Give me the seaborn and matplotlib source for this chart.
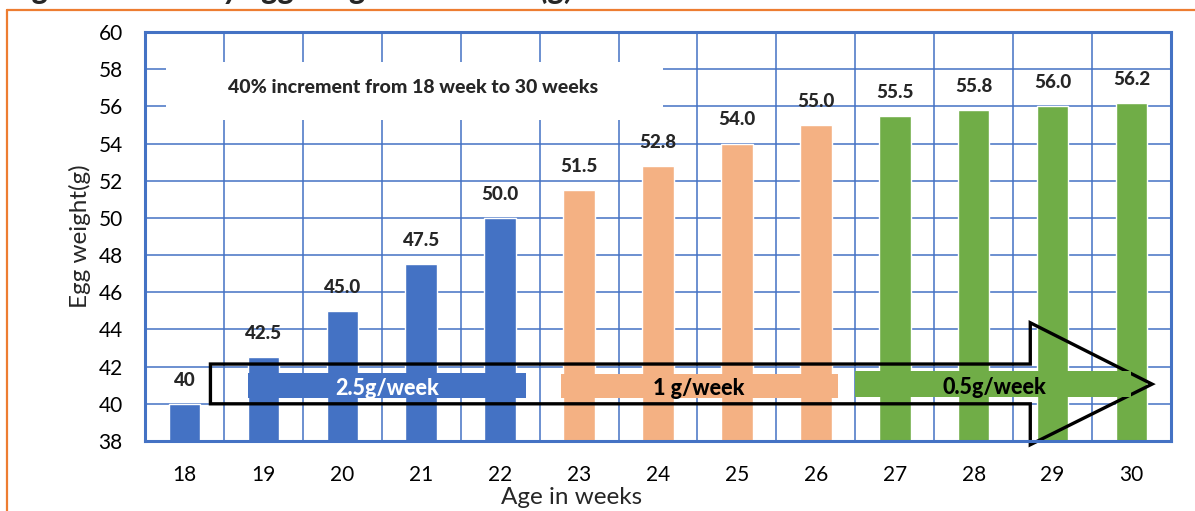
import matplotlib
matplotlib.use("Agg")
import matplotlib.pyplot as plt
import seaborn as sns
import pandas as pd
import numpy as np
from matplotlib.patches import Polygon, Rectangle
from matplotlib.lines import Line2D

# Weekly egg weight data
weeks = [18, 19, 20, 21, 22, 23, 24, 25, 26, 27, 28, 29, 30]
weights = [40.0, 42.5, 45.0, 47.5, 50.0, 51.5, 52.8, 54.0, 55.0, 55.5, 55.8, 56.0, 56.2]
value_labels = ["40", "42.5", "45.0", "47.5", "50.0", "51.5", "52.8",
                "54.0", "55.0", "55.5", "55.8", "56.0", "56.2"]
phases = ["2.5g/week"] * 5 + ["1 g/week"] * 4 + ["0.5g/week"] * 4
phase_names = ["2.5g/week", "1 g/week", "0.5g/week"]
phase_colors = ["#4472C4", "#F4B183", "#70AD47"]
y_ticks = list(range(38, 61, 2))

title_text = "Figure 3: Weekly egg weight over time (g)"
note_text = "40% increment from 18 week to 30 weeks"

BLUE = "#4472C4"
W, H = 1195, 511

sns.set_theme(style="white")
plt.rcParams["font.family"] = ["Lato", "DejaVu Sans"]

df = pd.DataFrame({"week": [str(w) for w in weeks], "weight": weights, "phase": phases})

fig = plt.figure(figsize=(W / 100, H / 100), dpi=100)
ax = fig.add_axes([145 / W, 1 - 441 / H, (1171 - 145) / W, (441 - 32) / H])

sns.barplot(data=df, x="week", y="weight", hue="phase", hue_order=phase_names,
            palette=dict(zip(phase_names, phase_colors)), dodge=False, width=0.4,
            saturation=1, errorbar=None, legend=False, ax=ax, zorder=2)

ax.set_xlim(-0.5, len(weeks) - 0.5)
ax.set_ylim(38, 60)
ax.set_yticks(y_ticks)
ax.set_yticklabels([str(t) for t in y_ticks])
ax.set_xticks(np.arange(len(weeks)))
ax.set_xticklabels([str(w) for w in weeks])
ax.set_xticks(np.arange(-0.5, len(weeks), 1), minor=True)

ax.set_axisbelow(True)
ax.yaxis.grid(True, color=BLUE, lw=1.1)
ax.xaxis.grid(True, which="minor", color=BLUE, lw=1.1)
ax.xaxis.grid(False, which="major")
ax.tick_params(axis="both", which="both", length=0, labelsize=15, colors="black")
ax.tick_params(axis="x", pad=17)
ax.tick_params(axis="y", pad=16)
for s in ax.spines.values():
    s.set_color(BLUE)
    s.set_linewidth(2.2)
    s.set_zorder(7)
ax.set_xlabel("")
ax.set_ylabel("")

# value labels above bars
for i, (v, lab) in enumerate(zip(weights, value_labels)):
    ax.annotate(lab, (i, v), xytext=(0, 17), textcoords="offset points",
                ha="center", va="center", fontsize=13.5, fontweight="black", zorder=6)

# note box
ax.add_patch(Rectangle((-0.23, 55.26), 6.29, 3.12, facecolor="white",
                       edgecolor="none", zorder=1.5))
ax.text(2.9, 57.03, note_text, ha="center", va="center", fontsize=14,
        fontweight="black", zorder=6)

# big outlined arrow
arrow = Polygon([(0.329, 40.0), (0.329, 42.14), (10.717, 42.14), (10.717, 44.36),
                 (12.26, 41.06), (10.717, 37.8), (10.717, 40.0)], closed=True,
                fill=False, edgecolor="black", lw=2.4, joinstyle="miter",
                zorder=4, clip_on=False)
ax.add_patch(arrow)

# rate bands
bands = [
    (0.81, 4.33, 40.31, 41.67, phase_colors[0], 2.57, 40.85, "white"),
    (4.77, 8.28, 40.30, 41.60, phase_colors[1], 6.52, 40.85, "black"),
    (8.49, 11.99, 40.38, 41.78, phase_colors[2], 10.26, 40.90, "black"),
]
for (x0, x1, y0, y1, c, tx, ty, tc), name in zip(bands, phase_names):
    ax.add_patch(Rectangle((x0, y0), x1 - x0, y1 - y0, facecolor=c,
                           edgecolor="none", zorder=5))
    ax.text(tx, ty, name, ha="center", va="center", fontsize=15.5,
            fontweight="black", color=tc, zorder=6)

# axis titles
fig.text(572 / W, 1 - 497 / H, "Age in weeks", ha="center", va="center", fontsize=17.5)
fig.text(80 / W, 1 - 236 / H, "Egg weight(g)", ha="center", va="center",
         fontsize=17.5, rotation=90)

# orange frame and title strip
fig.add_artist(Line2D([7 / W, 7 / W], [0, 1 - 10 / H], color="#ED7D31", lw=1.6))
fig.add_artist(Line2D([7 / W, 1], [1 - 10 / H, 1 - 10 / H], color="#ED7D31", lw=1.6))
fig.text(8 / W, 1 + 1.2 / H, title_text, ha="left", va="baseline", fontsize=23.5,
         fontweight="bold", style="italic")

fig.savefig("out.png", dpi=100, facecolor="white")
